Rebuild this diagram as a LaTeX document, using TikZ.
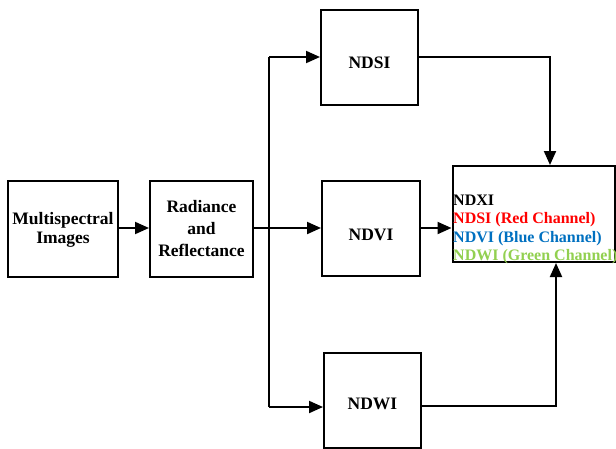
\documentclass[tikz,border=0pt]{standalone}
\usepackage{fontspec}
\setmainfont{Liberation Serif}
\usetikzlibrary{arrows.meta}
\definecolor{ndred}{RGB}{255,0,0}
\definecolor{ndblue}{RGB}{0,112,192}
\definecolor{ndgreen}{RGB}{146,208,80}
\begin{document}
\begin{tikzpicture}[x=1pt,y=-1pt,
  blk/.style={draw,line width=2pt,inner sep=0pt},
  lbl/.style={inner sep=0pt,align=center,font=\bfseries\fontsize{17.5}{22}\selectfont},
  conn/.style={line width=2pt},
  arr/.style={conn,-{Triangle[length=14pt,width=12pt]}}]
\useasboundingbox (0,0) rectangle (616,448);
\node[blk,minimum width=110pt,minimum height=96pt] (ms) at (63,229) {};
\node[blk,minimum width=103pt,minimum height=96pt] (rr) at (201.5,229) {};
\node[blk,minimum width=97pt,minimum height=95pt] (ndsi) at (369.5,57.5) {};
\node[blk,minimum width=98pt,minimum height=95pt] (ndvi) at (371,228.5) {};
\node[blk,minimum width=97pt,minimum height=95pt] (ndwi) at (372.5,400.5) {};
\node[blk,minimum width=162pt,minimum height=96pt] (ndxi) at (533.5,214) {};
\node[lbl,font=\bfseries\fontsize{17.5}{19.5}\selectfont] (msl) at (63,230) {Multispectral\\Images};
\node[lbl] (rrl) at (201.5,228.5) {Radiance\\and\\Reflectance};
\node[lbl] (ndsil) at (369.5,62.5) {NDSI};
\node[lbl] (ndvil) at (371,234.5) {NDVI};
\node[lbl] (ndwil) at (372.5,403.5) {NDWI};
\node[anchor=north west,inner sep=0pt,align=left,font=\bfseries\fontsize{16}{18.2}\selectfont] (txt) at (453,195)
  {NDXI\\\textcolor{ndred}{NDSI (Red Channel)}\\\textcolor{ndblue}{NDVI (Blue Channel)}\\\textcolor{ndgreen}{NDWI (Green Channel)}};
\coordinate (st) at (269,57);
\coordinate (sb) at (269,407);
\coordinate (tr) at (550,57);
\coordinate (br) at (556,406);
\draw[arr] (ms.east |- 0,228) -- (rr.west |- 0,228);
\draw[arr] (rr.east |- 0,228) -- (ndvi.west |- 0,228);
\draw[conn] (st) -- (sb);
\draw[arr] (st) -- (ndsi.west |- st);
\draw[arr] (sb) -- (ndwi.west |- sb);
\draw[arr] (ndvi.east |- 0,228) -- (ndxi.west |- 0,228);
\draw[arr] (ndsi.east |- tr) -- (tr) -- (tr |- ndxi.north);
\draw[arr] (ndwi.east |- br) -- (br) -- (br |- ndxi.south);
\end{tikzpicture}
\end{document}
